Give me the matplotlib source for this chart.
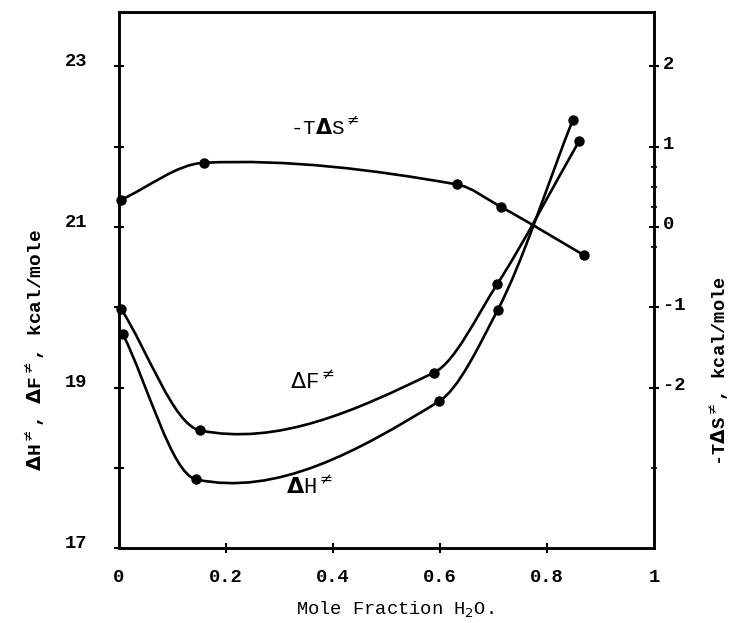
# Activation parameters vs. mole fraction of water (re-drawn from scanned figure)
import matplotlib
matplotlib.use("Agg")
import matplotlib.pyplot as plt
from matplotlib.path import Path
from matplotlib.patches import PathPatch
from matplotlib.transforms import ScaledTranslation
import numpy as np

# values
# left axis (kcal/mole)
x_dF = [0.004, 0.151, 0.589, 0.707, 0.860]
y_dF = [19.98, 18.47, 19.19, 20.29, 22.07]
x_dH = [0.007, 0.144, 0.598, 0.708, 0.848]
y_dH = [19.67, 17.86, 18.83, 19.97, 22.33]
# right axis (kcal/mole)
x_TdS = [0.004, 0.159, 0.632, 0.714, 0.869]
y_TdS = [0.34, 0.80, 0.53, 0.25, -0.35]

x_ticks = [0, 0.2, 0.4, 0.6, 0.8, 1]
x_ticklabels = ['0', '0.2', '0.4', '0.6', '0.8', '1']
left_ticks = [17, 19, 21, 23]
left_minor = [18, 20, 22]
right_ticks = [2, 1, 0, -1, -2]
right_minor = [0.75, 0.5, 0.25, -0.25, -3]

FONT = 'Liberation Mono'
plt.rcParams['font.family'] = FONT


def smooth_path(xs, ys):
    # cubic bezier pieces through the points, so the curve is drawn smooth
    xs = np.asarray(xs, float)
    ys = np.asarray(ys, float)
    h = np.diff(xs)
    s = np.diff(ys) / h
    m = np.empty(len(xs))
    m[0], m[-1] = s[0], s[-1]
    for i in range(1, len(xs) - 1):
        if s[i - 1] * s[i] > 0:
            m[i] = 3 * (h[i - 1] + h[i]) / ((2 * h[i] + h[i - 1]) / s[i - 1]
                                           + (h[i] + 2 * h[i - 1]) / s[i])
        else:
            m[i] = (ys[i + 1] - ys[i - 1]) / (xs[i + 1] - xs[i - 1])
    verts = [(xs[0], ys[0])]
    codes = [Path.MOVETO]
    for i in range(len(xs) - 1):
        d = h[i] / 3
        verts += [(xs[i] + d, ys[i] + m[i] * d),
                  (xs[i + 1] - d, ys[i + 1] - m[i + 1] * d),
                  (xs[i + 1], ys[i + 1])]
        codes += [Path.CURVE4] * 3
    return Path(verts, codes)


fig = plt.figure(figsize=(7.39, 6.23), dpi=100)
ax = fig.add_axes([0.161, 0.1196, 0.724, 0.861])
ax2 = ax.twinx()

ax.set_xlim(0, 1)
ax.set_ylim(17, 23.675)
ax2.set_ylim(-4, 2.675)

lw = 1.9
for xs, ys, a in [(x_dF, y_dF, ax), (x_dH, y_dH, ax), (x_TdS, y_TdS, ax2)]:
    a.add_patch(PathPatch(smooth_path(xs, ys), fill=False, lw=lw,
                          edgecolor='black', capstyle='round'))
    a.plot(xs, ys, 'o', color='black', markersize=6.5, clip_on=False)

# spines
for a in (ax, ax2):
    for sp in a.spines.values():
        sp.set_linewidth(1.8)

# x axis
ax.set_xticks(x_ticks)
ax.set_xticklabels(x_ticklabels, fontsize=13.5, fontweight='bold')
ax.tick_params(axis='x', direction='inout', length=7, width=1.5, pad=11)
ax.xaxis.get_major_ticks()[0].tick1line.set_visible(False)
ax.xaxis.get_major_ticks()[-1].tick1line.set_visible(False)
ax.set_xlabel('Mole Fraction H$_2$O.', fontsize=13.5)
ax.xaxis.set_label_coords(0.515, -0.095)

# left axis
ax.set_yticks(left_ticks)
ax.set_yticks(left_minor, minor=True)
ax.set_yticklabels([str(t) for t in left_ticks], fontsize=13.5, fontweight='bold')
ax.tick_params(axis='y', which='both', direction='inout', length=7, width=1.5)
ax.tick_params(axis='y', which='major', pad=19)
lift = ScaledTranslation(0, 5 / 72, fig.dpi_scale_trans)
for lab in ax.get_yticklabels():
    lab.set_transform(lab.get_transform() + lift)
ax.set_ylabel(r'$\mathbf{\Delta}$H$^{\neq}$, $\mathbf{\Delta}$F$^{\neq}$, kcal/mole',
              fontsize=14, fontweight='bold')
ax.yaxis.set_label_coords(-0.135, 0.37)

# right axis
ax2.set_yticks(right_ticks)
ax2.set_yticks(right_minor, minor=True)
ax2.set_yticklabels([str(t) for t in right_ticks], fontsize=13.5, fontweight='bold')
ax2.tick_params(axis='y', which='major', direction='inout', length=7, width=1.5, pad=3)
ax2.tick_params(axis='y', which='minor', direction='inout', length=5, width=1.2)
lift2 = ScaledTranslation(0, 3 / 72, fig.dpi_scale_trans)
for lab in ax2.get_yticklabels():
    lab.set_transform(lab.get_transform() + lift2)
ax2.set_ylabel(r'-T$\mathbf{\Delta}$S$^{\neq}$, kcal/mole', fontsize=13.5, fontweight='bold')
ax2.yaxis.set_label_coords(1.1, 0.33)

# curve labels
ax.text(0.32, 22.15, r'-T$\mathbf{\Delta}$S$^{\neq}$', fontsize=15)
ax.text(0.32, 18.98, r'$\Delta$F$^{\neq}$', fontsize=16)
ax.text(0.313, 17.68, r'$\mathbf{\Delta}$H$^{\neq}$', fontsize=16)

fig.savefig('out.png', dpi=100)
plt.close(fig)
